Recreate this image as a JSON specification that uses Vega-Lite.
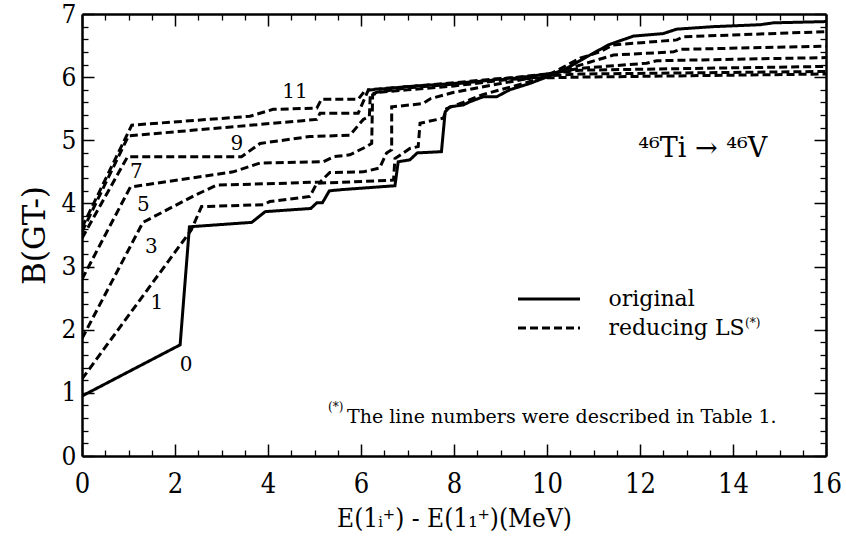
{
  "$schema": "https://vega.github.io/schema/vega-lite/v6.json",
  "width": 744,
  "height": 442,
  "autosize": "none",
  "padding": {"left": 82, "top": 14, "right": 20, "bottom": 88},
  "background": "white",
  "config": {"view": {"stroke": null}, "font": "DejaVu Serif"},
  "datasets": {
    "lines": [
      {"s":0,"t":"original","i":0,"x":0,"y":0.95},{"s":0,"t":"original","i":1,"x":2.11,"y":1.76},{"s":0,"t":"original","i":2,"x":2.31,"y":3.63},{"s":0,"t":"original","i":3,"x":3.65,"y":3.7},{"s":0,"t":"original","i":4,"x":3.94,"y":3.87},{"s":0,"t":"original","i":5,"x":4.92,"y":3.92},{"s":0,"t":"original","i":6,"x":5.05,"y":4.01},{"s":0,"t":"original","i":7,"x":5.17,"y":4.01},{"s":0,"t":"original","i":8,"x":5.32,"y":4.2},{"s":0,"t":"original","i":9,"x":5.61,"y":4.22},{"s":0,"t":"original","i":10,"x":6.73,"y":4.28},{"s":0,"t":"original","i":11,"x":6.8,"y":4.66},{"s":0,"t":"original","i":12,"x":7.05,"y":4.69},{"s":0,"t":"original","i":13,"x":7.21,"y":4.8},{"s":0,"t":"original","i":14,"x":7.73,"y":4.82},{"s":0,"t":"original","i":15,"x":7.81,"y":5.45},{"s":0,"t":"original","i":16,"x":7.91,"y":5.53},{"s":0,"t":"original","i":17,"x":8.2,"y":5.56},{"s":0,"t":"original","i":18,"x":8.34,"y":5.61},{"s":0,"t":"original","i":19,"x":8.63,"y":5.69},{"s":0,"t":"original","i":20,"x":8.92,"y":5.69},{"s":0,"t":"original","i":21,"x":9.2,"y":5.8},{"s":0,"t":"original","i":22,"x":9.63,"y":5.9},{"s":0,"t":"original","i":23,"x":9.99,"y":6.0},{"s":0,"t":"original","i":24,"x":10.35,"y":6.11},{"s":0,"t":"original","i":25,"x":10.85,"y":6.32},{"s":0,"t":"original","i":26,"x":11.32,"y":6.51},{"s":0,"t":"original","i":27,"x":11.43,"y":6.54},{"s":0,"t":"original","i":28,"x":11.86,"y":6.65},{"s":0,"t":"original","i":29,"x":12.5,"y":6.69},{"s":0,"t":"original","i":30,"x":12.79,"y":6.76},{"s":0,"t":"original","i":31,"x":13.58,"y":6.8},{"s":0,"t":"original","i":32,"x":14.58,"y":6.83},{"s":0,"t":"original","i":33,"x":14.87,"y":6.86},{"s":0,"t":"original","i":34,"x":16,"y":6.88},

      {"s":1,"t":"reducing LS","i":0,"x":0,"y":1.22},{"s":1,"t":"reducing LS","i":1,"x":2.35,"y":3.58},{"s":1,"t":"reducing LS","i":2,"x":2.57,"y":3.95},{"s":1,"t":"reducing LS","i":3,"x":3.9,"y":3.98},{"s":1,"t":"reducing LS","i":4,"x":4.04,"y":4.03},{"s":1,"t":"reducing LS","i":5,"x":4.9,"y":4.11},{"s":1,"t":"reducing LS","i":6,"x":5.05,"y":4.32},{"s":1,"t":"reducing LS","i":7,"x":5.76,"y":4.34},{"s":1,"t":"reducing LS","i":8,"x":6.7,"y":4.37},{"s":1,"t":"reducing LS","i":9,"x":6.73,"y":4.71},{"s":1,"t":"reducing LS","i":10,"x":7.05,"y":4.87},{"s":1,"t":"reducing LS","i":11,"x":7.23,"y":4.9},{"s":1,"t":"reducing LS","i":12,"x":7.27,"y":5.27},{"s":1,"t":"reducing LS","i":13,"x":7.77,"y":5.35},{"s":1,"t":"reducing LS","i":14,"x":7.84,"y":5.5},{"s":1,"t":"reducing LS","i":15,"x":8.2,"y":5.6},{"s":1,"t":"reducing LS","i":16,"x":8.6,"y":5.72},{"s":1,"t":"reducing LS","i":17,"x":9.0,"y":5.8},{"s":1,"t":"reducing LS","i":18,"x":9.5,"y":5.9},{"s":1,"t":"reducing LS","i":19,"x":10.0,"y":6.02},{"s":1,"t":"reducing LS","i":20,"x":10.71,"y":6.3},{"s":1,"t":"reducing LS","i":21,"x":11.14,"y":6.4},{"s":1,"t":"reducing LS","i":22,"x":11.42,"y":6.51},{"s":1,"t":"reducing LS","i":23,"x":12.79,"y":6.59},{"s":1,"t":"reducing LS","i":24,"x":12.93,"y":6.64},{"s":1,"t":"reducing LS","i":25,"x":16,"y":6.72},

      {"s":3,"t":"reducing LS","i":0,"x":0,"y":1.86},{"s":3,"t":"reducing LS","i":1,"x":1.31,"y":3.7},{"s":3,"t":"reducing LS","i":2,"x":2.43,"y":4.13},{"s":3,"t":"reducing LS","i":3,"x":2.9,"y":4.29},{"s":3,"t":"reducing LS","i":4,"x":4.4,"y":4.32},{"s":3,"t":"reducing LS","i":5,"x":5.12,"y":4.34},{"s":3,"t":"reducing LS","i":6,"x":5.33,"y":4.49},{"s":3,"t":"reducing LS","i":7,"x":6.05,"y":4.5},{"s":3,"t":"reducing LS","i":8,"x":6.4,"y":4.56},{"s":3,"t":"reducing LS","i":9,"x":6.55,"y":4.8},{"s":3,"t":"reducing LS","i":10,"x":6.66,"y":4.85},{"s":3,"t":"reducing LS","i":11,"x":6.66,"y":5.53},{"s":3,"t":"reducing LS","i":12,"x":7.33,"y":5.58},{"s":3,"t":"reducing LS","i":13,"x":7.5,"y":5.66},{"s":3,"t":"reducing LS","i":14,"x":8,"y":5.76},{"s":3,"t":"reducing LS","i":15,"x":9,"y":5.9},{"s":3,"t":"reducing LS","i":16,"x":10,"y":6.03},{"s":3,"t":"reducing LS","i":17,"x":10.71,"y":6.19},{"s":3,"t":"reducing LS","i":18,"x":11.43,"y":6.35},{"s":3,"t":"reducing LS","i":19,"x":12.72,"y":6.4},{"s":3,"t":"reducing LS","i":20,"x":12.86,"y":6.44},{"s":3,"t":"reducing LS","i":21,"x":16,"y":6.49},

      {"s":5,"t":"reducing LS","i":0,"x":0,"y":2.8},{"s":5,"t":"reducing LS","i":1,"x":1.04,"y":4.26},{"s":5,"t":"reducing LS","i":2,"x":3.25,"y":4.5},{"s":5,"t":"reducing LS","i":3,"x":3.83,"y":4.64},{"s":5,"t":"reducing LS","i":4,"x":5.19,"y":4.66},{"s":5,"t":"reducing LS","i":5,"x":5.41,"y":4.74},{"s":5,"t":"reducing LS","i":6,"x":5.76,"y":4.77},{"s":5,"t":"reducing LS","i":7,"x":6.12,"y":4.9},{"s":5,"t":"reducing LS","i":8,"x":6.23,"y":4.95},{"s":5,"t":"reducing LS","i":9,"x":6.25,"y":5.72},{"s":5,"t":"reducing LS","i":10,"x":6.4,"y":5.76},{"s":5,"t":"reducing LS","i":11,"x":7,"y":5.8},{"s":5,"t":"reducing LS","i":12,"x":8,"y":5.86},{"s":5,"t":"reducing LS","i":13,"x":9,"y":5.95},{"s":5,"t":"reducing LS","i":14,"x":10,"y":6.05},{"s":5,"t":"reducing LS","i":15,"x":10.71,"y":6.14},{"s":5,"t":"reducing LS","i":16,"x":12.14,"y":6.22},{"s":5,"t":"reducing LS","i":17,"x":12.36,"y":6.26},{"s":5,"t":"reducing LS","i":18,"x":16,"y":6.31},

      {"s":7,"t":"reducing LS","i":0,"x":0,"y":3.45},{"s":7,"t":"reducing LS","i":1,"x":0.98,"y":4.74},{"s":7,"t":"reducing LS","i":2,"x":3.43,"y":4.74},{"s":7,"t":"reducing LS","i":3,"x":3.83,"y":4.95},{"s":7,"t":"reducing LS","i":4,"x":4.9,"y":5.06},{"s":7,"t":"reducing LS","i":5,"x":5.76,"y":5.08},{"s":7,"t":"reducing LS","i":6,"x":6.05,"y":5.33},{"s":7,"t":"reducing LS","i":7,"x":6.18,"y":5.38},{"s":7,"t":"reducing LS","i":8,"x":6.2,"y":5.72},{"s":7,"t":"reducing LS","i":9,"x":6.34,"y":5.76},{"s":7,"t":"reducing LS","i":10,"x":7,"y":5.83},{"s":7,"t":"reducing LS","i":11,"x":8,"y":5.89},{"s":7,"t":"reducing LS","i":12,"x":9,"y":5.97},{"s":7,"t":"reducing LS","i":13,"x":10,"y":6.05},{"s":7,"t":"reducing LS","i":14,"x":10.71,"y":6.11},{"s":7,"t":"reducing LS","i":15,"x":16,"y":6.17},

      {"s":9,"t":"reducing LS","i":0,"x":0,"y":3.55},{"s":9,"t":"reducing LS","i":1,"x":1.0,"y":5.07},{"s":9,"t":"reducing LS","i":2,"x":5.05,"y":5.33},{"s":9,"t":"reducing LS","i":3,"x":5.12,"y":5.43},{"s":9,"t":"reducing LS","i":4,"x":5.94,"y":5.43},{"s":9,"t":"reducing LS","i":5,"x":6.16,"y":5.8},{"s":9,"t":"reducing LS","i":6,"x":7,"y":5.85},{"s":9,"t":"reducing LS","i":7,"x":8,"y":5.91},{"s":9,"t":"reducing LS","i":8,"x":9,"y":5.98},{"s":9,"t":"reducing LS","i":9,"x":10,"y":6.02},{"s":9,"t":"reducing LS","i":10,"x":10.71,"y":6.05},{"s":9,"t":"reducing LS","i":11,"x":16,"y":6.09},

      {"s":11,"t":"reducing LS","i":0,"x":0,"y":3.62},{"s":11,"t":"reducing LS","i":1,"x":1.07,"y":5.24},{"s":11,"t":"reducing LS","i":2,"x":3.61,"y":5.38},{"s":11,"t":"reducing LS","i":3,"x":4.11,"y":5.49},{"s":11,"t":"reducing LS","i":4,"x":5.05,"y":5.51},{"s":11,"t":"reducing LS","i":5,"x":5.15,"y":5.65},{"s":11,"t":"reducing LS","i":6,"x":5.94,"y":5.65},{"s":11,"t":"reducing LS","i":7,"x":6.09,"y":5.79},{"s":11,"t":"reducing LS","i":8,"x":7,"y":5.85},{"s":11,"t":"reducing LS","i":9,"x":8,"y":5.9},{"s":11,"t":"reducing LS","i":10,"x":9,"y":5.96},{"s":11,"t":"reducing LS","i":11,"x":10,"y":5.99},{"s":11,"t":"reducing LS","i":12,"x":10.71,"y":6.0},{"s":11,"t":"reducing LS","i":13,"x":16,"y":6.05}
    ],
    "numbers": [
      {"label":"11","x":4.58,"y":5.77},{"label":"9","x":3.33,"y":4.94},{"label":"7","x":1.17,"y":4.5},{"label":"5","x":1.32,"y":3.98},{"label":"3","x":1.49,"y":3.31},{"label":"1","x":1.61,"y":2.42},{"label":"0","x":2.24,"y":1.44}
    ],
    "reaction": [{"label":"⁴⁶Ti → ⁴⁶V","x":11.96,"y":4.74}],
    "note": [{"label":"The line numbers were described in Table 1.","x":5.7,"y":0.52}],
    "marks": [{"label":"(*)","x":5.29,"y":0.71},{"label":"(*)","x":14.26,"y":2.04}]
  },
  "resolve": {"axis": {"x": "independent", "y": "independent"}},
  "layer": [
    {
      "data": {"name": "lines"},
      "mark": {"type": "line", "strokeWidth": 3, "color": "black", "strokeCap": "butt", "clip": true},
      "encoding": {
        "x": {"field": "x", "type": "quantitative", "scale": {"domain": [0, 16], "nice": false, "zero": false},
          "axis": {"orient": "bottom", "values": [0,2,4,6,8,10,12,14,16], "grid": false, "tickSize": -12, "tickWidth": 1.5, "tickColor": "black", "domainColor": "black", "domainWidth": 2.5, "labelFont": "DejaVu Serif Condensed", "labelFontSize": 27, "labelColor": "black", "labelPadding": 27, "labelFlush": false, "labelOverlap": false,
            "title": "E(1ᵢ⁺) - E(1₁⁺)(MeV)", "titleFont": "DejaVu Serif Condensed", "titleFontSize": 26, "titleFontWeight": "normal", "titleColor": "black", "titlePadding": 8}},
        "y": {"field": "y", "type": "quantitative", "scale": {"domain": [0, 7], "nice": false, "zero": false},
          "axis": {"orient": "left", "values": [0,1,2,3,4,5,6,7], "grid": false, "tickSize": -12, "tickWidth": 1.5, "tickColor": "black", "domainColor": "black", "domainWidth": 2.5, "labelFont": "DejaVu Serif Condensed", "labelFontSize": 26, "labelColor": "black", "labelPadding": 18, "labelFlush": false, "labelOverlap": false,
            "title": "B(GT-)", "titleFont": "DejaVu Serif", "titleFontSize": 31, "titleFontWeight": "normal", "titleColor": "black", "titlePadding": 10}},
        "detail": {"field": "s"},
        "order": {"field": "i", "type": "quantitative"},
        "strokeDash": {"field": "t", "type": "nominal", "scale": {"domain": ["original", "reducing LS"], "range": [[1, 0], [8, 4]]},
          "legend": {"orient": "none", "legendX": 434.5, "legendY": 270.5, "title": null, "symbolType": "stroke", "symbolSize": 3844, "symbolStrokeWidth": 3, "symbolStrokeColor": "black", "labelFont": "DejaVu Serif", "labelFontSize": 22, "labelColor": "black", "labelOffset": 27, "clipHeight": 29, "rowPadding": 0, "padding": 0}}
      }
    },
    {
      "data": {"name": "numbers"},
      "mark": {"type": "text", "font": "DejaVu Serif", "fontSize": 20, "color": "black", "align": "center", "baseline": "middle"},
      "encoding": {
        "x": {"field": "x", "type": "quantitative", "axis": {"orient": "top", "values": [0,2,4,6,8,10,12,14,16], "grid": false, "labels": false, "title": null, "tickSize": -12, "tickWidth": 1.5, "tickColor": "black", "domainColor": "black", "domainWidth": 2.5}},
        "y": {"field": "y", "type": "quantitative", "axis": {"orient": "right", "values": [0,1,2,3,4,5,6,7], "grid": false, "labels": false, "title": null, "tickSize": -12, "tickWidth": 1.5, "tickColor": "black", "domainColor": "black", "domainWidth": 2.5}},
        "text": {"field": "label"}
      }
    },
    {
      "data": {"name": "reaction"},
      "mark": {"type": "text", "font": "DejaVu Serif", "fontSize": 27, "color": "black", "align": "left", "baseline": "alphabetic"},
      "encoding": {
        "x": {"field": "x", "type": "quantitative", "axis": {"orient": "bottom", "values": [0.5,1,1.5,2.5,3,3.5,4.5,5,5.5,6.5,7,7.5,8.5,9,9.5,10.5,11,11.5,12.5,13,13.5,14.5,15,15.5], "grid": false, "labels": false, "domain": false, "title": null, "tickSize": -6, "tickWidth": 1.3, "tickColor": "black"}},
        "y": {"field": "y", "type": "quantitative", "axis": {"orient": "left", "values": [0.2,0.4,0.6,0.8,1.2,1.4,1.6,1.8,2.2,2.4,2.6,2.8,3.2,3.4,3.6,3.8,4.2,4.4,4.6,4.8,5.2,5.4,5.6,5.8,6.2,6.4,6.6,6.8], "grid": false, "labels": false, "domain": false, "title": null, "tickSize": -6, "tickWidth": 1.3, "tickColor": "black"}},
        "text": {"field": "label"}
      }
    },
    {
      "data": {"name": "note"},
      "mark": {"type": "text", "font": "DejaVu Serif", "fontSize": 19, "color": "black", "align": "left", "baseline": "alphabetic"},
      "encoding": {
        "x": {"field": "x", "type": "quantitative", "axis": {"orient": "top", "values": [0.5,1,1.5,2.5,3,3.5,4.5,5,5.5,6.5,7,7.5,8.5,9,9.5,10.5,11,11.5,12.5,13,13.5,14.5,15,15.5], "grid": false, "labels": false, "domain": false, "title": null, "tickSize": -6, "tickWidth": 1.3, "tickColor": "black"}},
        "y": {"field": "y", "type": "quantitative", "axis": {"orient": "right", "values": [0.2,0.4,0.6,0.8,1.2,1.4,1.6,1.8,2.2,2.4,2.6,2.8,3.2,3.4,3.6,3.8,4.2,4.4,4.6,4.8,5.2,5.4,5.6,5.8,6.2,6.4,6.6,6.8], "grid": false, "labels": false, "domain": false, "title": null, "tickSize": -6, "tickWidth": 1.3, "tickColor": "black"}},
        "text": {"field": "label"}
      }
    },
    {
      "data": {"name": "marks"},
      "mark": {"type": "text", "font": "DejaVu Serif", "fontSize": 12, "color": "black", "align": "left", "baseline": "alphabetic"},
      "encoding": {
        "x": {"field": "x", "type": "quantitative", "axis": null},
        "y": {"field": "y", "type": "quantitative", "axis": null},
        "text": {"field": "label"}
      }
    }
  ]
}
